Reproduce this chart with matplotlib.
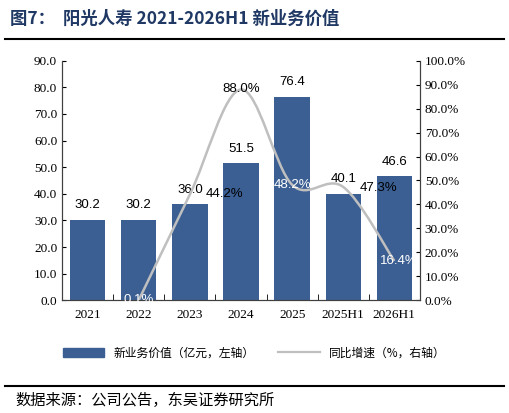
import matplotlib
matplotlib.use("Agg")
import matplotlib.pyplot as plt
from matplotlib.path import Path
from matplotlib.patches import PathPatch
import numpy as np

years = ["2021", "2022", "2023", "2024", "2025", "2025H1", "2026H1"]
nbv = [30.2, 30.2, 36.0, 51.5, 76.4, 40.1, 46.6]
growth = [np.nan, 0.1, 44.2, 88.0, 48.2, 47.3, 16.4]
growth_labels = ["", "0.1%", "44.2%", "88.0%", "48.2%", "47.3%", "16.4%"]

BAR = "#3b5f93"
LINE = "#bfbfbf"
NAVY = "#1f3864"
CJK = ["Noto Sans CJK SC", "DejaVu Sans"]
SERIF = "Liberation Serif"
SANS = "Liberation Sans"

fig = plt.figure(figsize=(5.09, 4.13), dpi=100)
ax1 = fig.add_axes([0.122, 0.273, 0.703, 0.58])
ax2 = ax1.twinx()

x = np.arange(len(years))
ax1.bar(x, nbv, width=0.69, color=BAR, zorder=2)
for xi, v in zip(x, nbv):
    ax1.text(xi, v + 5.5, f"{v:.1f}", ha="center", va="center", fontsize=9.5, family=SANS)

# smoothed growth line (Excel-style Catmull-Rom through the data points)
gx = x[1:].astype(float)
gy = np.array(growth[1:])
pts = np.column_stack([gx, gy])
verts = [pts[0]]
codes = [Path.MOVETO]
t = 1 / 6
for i in range(len(pts) - 1):
    p0 = pts[i - 1] if i > 0 else pts[i]
    p1, p2 = pts[i], pts[i + 1]
    p3 = pts[i + 2] if i + 2 < len(pts) else pts[i + 1]
    verts += [p1 + (p2 - p0) * t, p2 - (p3 - p1) * t, p2]
    codes += [Path.CURVE4] * 3
ax2.add_patch(PathPatch(Path(verts, codes), fill=False, edgecolor=LINE, lw=1.8, zorder=3))

offsets = {1: (0, 0, "white"), 2: (0.68, 0, "black"), 3: (0, 0, "black"),
           4: (0, 0, "white"), 5: (0.68, -0.5, "black"), 6: (0.08, 0, "white")}
for i, (dx, dy, c) in offsets.items():
    ax2.text(x[i] + dx, growth[i] + dy, growth_labels[i], ha="center", va="center",
             fontsize=9.5, color=c, family=SANS, zorder=4)

ax1.set_xlim(-0.5, len(years) - 0.5)
ax1.set_ylim(0, 90)
ax1.set_yticks(np.arange(0, 91, 10))
ax1.set_yticklabels([f"{v:.1f}" for v in np.arange(0, 91, 10)], family=SERIF, fontsize=9.5)
ax2.set_ylim(0, 100)
ax2.set_yticks(np.arange(0, 101, 10))
ax2.set_yticklabels([f"{v:.1f}%" for v in np.arange(0, 101, 10)], family=SERIF, fontsize=9.5)
ax1.set_xticks(x)
ax1.set_xticklabels(years, family=SERIF, fontsize=9.5)
ax1.set_xticks(np.arange(-0.5, len(years), 1), minor=True)
ax1.tick_params(axis="x", which="major", length=0, pad=6)
ax1.tick_params(axis="x", which="minor", length=4, direction="in")
for ax in (ax1, ax2):
    ax.spines["top"].set_visible(False)
    for s in ax.spines.values():
        s.set_color("#404040")
ax1.tick_params(axis="y", direction="in", length=3)
ax2.tick_params(axis="y", direction="in", length=3)

handles = [plt.Rectangle((0, 0), 1, 1, color=BAR), plt.Line2D([0], [0], color=LINE, lw=1.6)]
fig.legend(handles, ["新业务价值（亿元，左轴）", "同比增速（%，右轴）"],
           loc="center", bbox_to_anchor=(0.5, 0.145), ncol=2, frameon=False,
           prop={"family": CJK, "size": 8.5}, handlelength=3.5, columnspacing=2)

fig.text(0.02, 0.955, "图7：  阳光人寿 2021-2026H1 新业务价值", fontsize=12.5,
         fontweight="bold", color=NAVY, family=CJK, va="center")
fig.add_artist(plt.Line2D([0.01, 0.99], [0.905, 0.905], color="black", lw=1.5))
fig.add_artist(plt.Line2D([0.01, 0.99], [0.065, 0.065], color="black", lw=1.5))
fig.text(0.03, 0.03, "数据来源：公司公告，东吴证券研究所", fontsize=11, family=CJK, va="center")

fig.savefig("out.png", dpi=100)
